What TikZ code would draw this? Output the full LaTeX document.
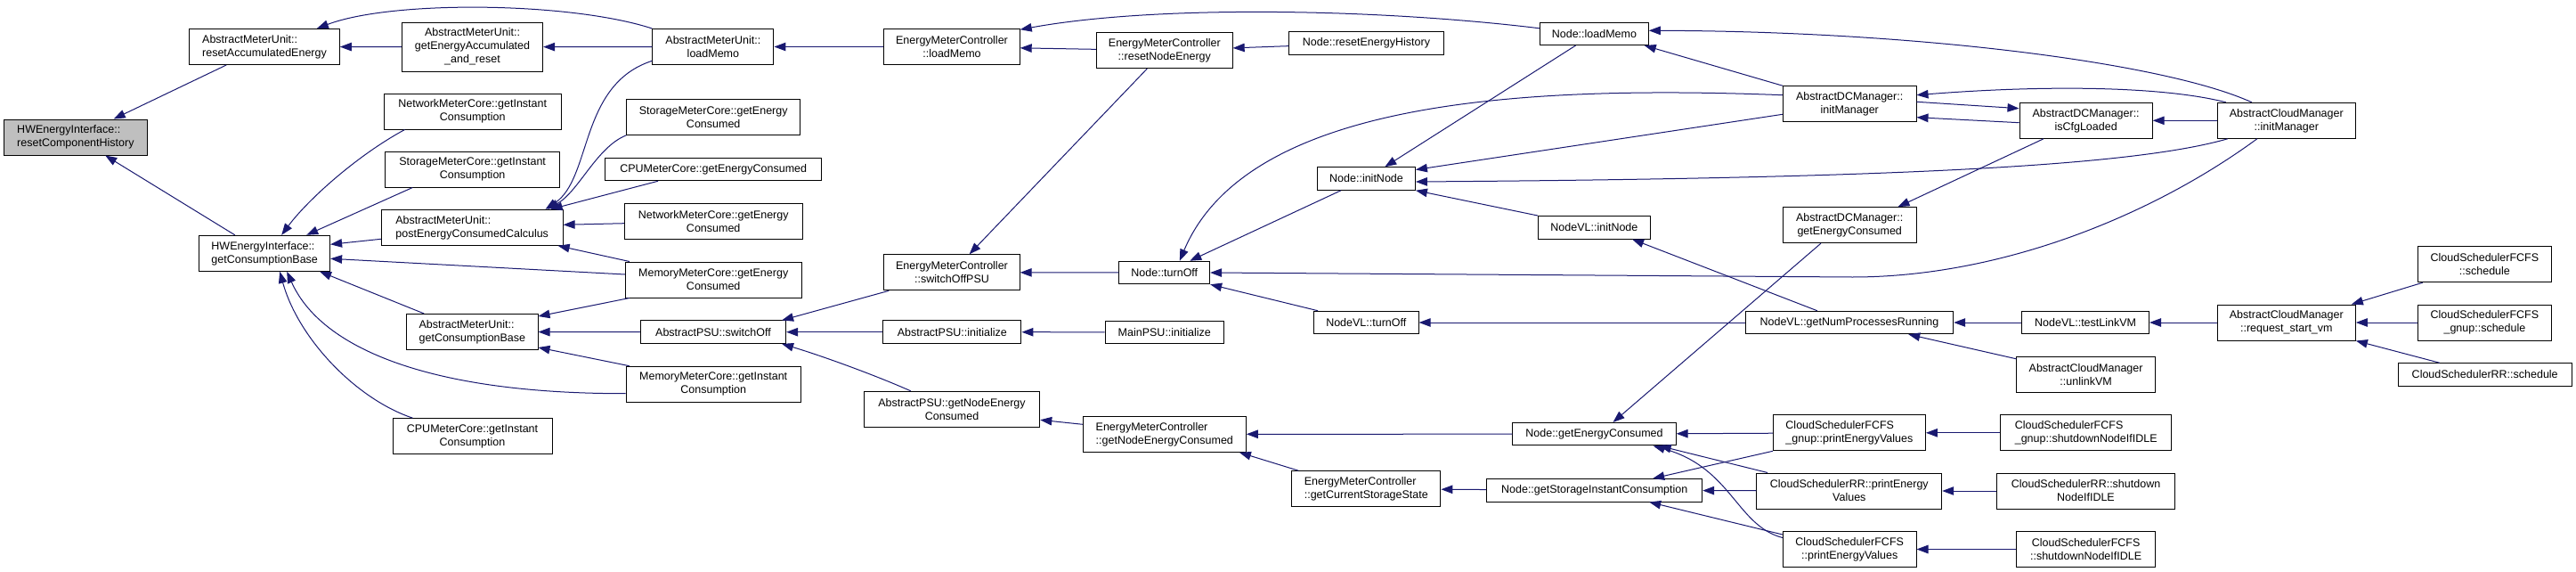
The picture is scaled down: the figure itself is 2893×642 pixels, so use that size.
\documentclass[tikz,border=0pt]{standalone}
\usepackage{fontspec}
\setmainfont{Liberation Sans}
\usetikzlibrary{arrows.meta}
\definecolor{edgeblue}{RGB}{25,25,112}
\tikzset{
    fn/.style={draw, rectangle, line width=1pt, fill=white, inner xsep=3pt, inner ysep=1pt, minimum height=40pt, align=center, font=\fontsize{12.5}{15}\selectfont},
    single/.style={minimum height=25.5pt},
    arrow/.style={draw=edgeblue, line width=1pt, -{Triangle[length=13pt, width=9.5pt]}}
}
\begin{document}
\begin{tikzpicture}[x=1pt, y=-1pt]
\useasboundingbox (0,0) rectangle (2893,642);
\node[fn, fill=black!25, align=left, minimum width=161pt] (rch) at (84.9,154) {HWEnergyInterface::\\resetComponentHistory};
\node[fn, align=left, minimum width=168.7pt] (rae) at (297,52.5) {AbstractMeterUnit::\\resetAccumulatedEnergy};
\node[fn, align=left, minimum width=146.8pt] (hwgcb) at (297.2,284.3) {HWEnergyInterface::\\getConsumptionBase};
\node[fn, minimum width=158.3pt, minimum height=54.7pt] (gear) at (530.5,52.7) {AbstractMeterUnit::\\getEnergyAccumulated\\\_and\_reset};
\node[fn, minimum width=199.3pt] (nmcgic) at (530.7,125) {NetworkMeterCore::getInstant\\Consumption};
\node[fn, minimum width=195.6pt] (smcgic) at (530.6,190) {StorageMeterCore::getInstant\\Consumption};
\node[fn, align=left, minimum width=203.8pt] (pecc) at (530.2,255.3) {AbstractMeterUnit::\\postEnergyConsumedCalculus};
\node[fn, align=left, minimum width=147.2pt] (amugcb) at (530.4,372.5) {AbstractMeterUnit::\\getConsumptionBase};
\node[fn, minimum width=179pt] (cpugic) at (530.5,489.7) {CPUMeterCore::getInstant\\Consumption};
\node[fn, minimum width=136.1pt] (amulm) at (800.9,52.5) {AbstractMeterUnit::\\loadMemo};
\node[fn, minimum width=194.6pt] (smcgec) at (801.2,131.3) {StorageMeterCore::getEnergy\\Consumed};
\node[fn, single, minimum width=243.4pt] (cpugec) at (801.2,190) {CPUMeterCore::getEnergyConsumed};
\node[fn, minimum width=199.7pt] (nmcgec) at (801.2,248.7) {NetworkMeterCore::getEnergy\\Consumed};
\node[fn, minimum width=197.6pt] (mmcgec) at (801.2,314) {MemoryMeterCore::getEnergy\\Consumed};
\node[fn, single, minimum width=163.2pt] (psuso) at (801,372.7) {AbstractPSU::switchOff};
\node[fn, minimum width=196pt] (mmcgic) at (801.2,431.2) {MemoryMeterCore::getInstant\\Consumption};
\node[fn, minimum width=152.4pt] (emclm) at (1069,52.5) {EnergyMeterController\\::loadMemo};
\node[fn, minimum width=152.4pt] (emcso) at (1069,305.8) {EnergyMeterController\\::switchOffPSU};
\node[fn, single, minimum width=155.3pt] (psuinit) at (1069.3,372.7) {AbstractPSU::initialize};
\node[fn, minimum width=197.5pt] (psugnec) at (1069,459.3) {AbstractPSU::getNodeEnergy\\Consumed};
\node[fn, minimum width=152.7pt] (emcrne) at (1307.8,56.7) {EnergyMeterController\\::resetNodeEnergy};
\node[fn, single, minimum width=101.7pt] (nto) at (1307.8,306) {Node::turnOff};
\node[fn, single, minimum width=133.5pt] (mainpsu) at (1307.8,372.8) {MainPSU::initialize};
\node[fn, align=left, minimum width=183.1pt] (emcgnec) at (1307.8,487.3) {EnergyMeterController\\::getNodeEnergyConsumed};
\node[fn, single, minimum width=173.4pt] (nreh) at (1534.5,48.5) {Node::resetEnergyHistory};
\node[fn, single, minimum width=109.8pt] (nin) at (1534.5,200.5) {Node::initNode};
\node[fn, single, minimum width=117.6pt] (nvto) at (1534.3,362) {NodeVL::turnOff};
\node[fn, align=left, minimum width=167.2pt] (emcgcss) at (1534.3,548.7) {EnergyMeterController\\::getCurrentStorageState};
\node[fn, single, minimum width=121.7pt] (nlm) at (1790.4,37.8) {Node::loadMemo};
\node[fn, single, minimum width=125.5pt] (nvin) at (1790.4,255.3) {NodeVL::initNode};
\node[fn, single, minimum width=183.3pt] (ngec) at (1790.5,487.2) {Node::getEnergyConsumed};
\node[fn, single, minimum width=242pt] (ngsic) at (1790.7,550.3) {Node::getStorageInstantConsumption};
\node[fn, minimum width=149.6pt] (dcim) at (2077.2,116.7) {AbstractDCManager::\\initManager};
\node[fn, minimum width=149.6pt] (dcgec) at (2077.2,252.7) {AbstractDCManager::\\getEnergyConsumed};
\node[fn, single, minimum width=233.4pt] (nvgnpr) at (2077,362) {NodeVL::getNumProcessesRunning};
\node[fn, align=left, minimum width=171.1pt] (fgpev) at (2076.9,485.8) {CloudSchedulerFCFS\\\_gnup::printEnergyValues};
\node[fn, minimum width=207.8pt] (rrpev) at (2076.8,551) {CloudSchedulerRR::printEnergy\\Values};
\node[fn, minimum width=149.6pt] (fpev) at (2077.2,616.5) {CloudSchedulerFCFS\\::printEnergyValues};
\node[fn, minimum width=149.2pt] (dccfg) at (2342.6,135.3) {AbstractDCManager::\\isCfgLoaded};
\node[fn, single, minimum width=142.8pt] (nvtl) at (2342.1,362) {NodeVL::testLinkVM};
\node[fn, minimum width=155.4pt] (acmul) at (2342.6,420.3) {AbstractCloudManager\\::unlinkVM};
\node[fn, align=left, minimum width=191.5pt] (fgsd) at (2342.7,485.8) {CloudSchedulerFCFS\\\_gnup::shutdownNodeIfIDLE};
\node[fn, minimum width=199.5pt] (rrsd) at (2342.5,551) {CloudSchedulerRR::shutdown\\NodeIfIDLE};
\node[fn, minimum width=155.4pt] (fsd) at (2342.6,616.5) {CloudSchedulerFCFS\\::shutdownNodeIfIDLE};
\node[fn, minimum width=155.1pt] (acmim) at (2567.8,135.3) {AbstractCloudManager\\::initManager};
\node[fn, minimum width=155.1pt] (acmrsv) at (2567.8,362) {AbstractCloudManager\\::request\_start\_vm};
\node[fn, minimum width=150.1pt] (fsch) at (2790.4,296.7) {CloudSchedulerFCFS\\::schedule};
\node[fn, minimum width=150.1pt] (fgsch) at (2790.4,362) {CloudSchedulerFCFS\\\_gnup::schedule};
\node[fn, single, minimum width=194.8pt] (rrsch) at (2790.7,420.5) {CloudSchedulerRR::schedule};
\draw[arrow] (rae) -- (rch);
\draw[arrow] (hwgcb) -- (rch);
\draw[arrow] (gear) -- (rae);
\draw[arrow] (amulm.north west) .. controls (640,2) and (440,0) .. ([xshift=-26pt]rae.north east);
\draw[arrow] (amulm) -- (gear);
\draw[arrow] ([xshift=24pt]nmcgic.south west) .. controls (400,175) and (345,225) .. ([xshift=19pt]hwgcb.north);
\draw[arrow] ([xshift=31pt]smcgic.south west) -- ([xshift=47pt]hwgcb.north);
\draw[arrow] ([yshift=-13pt]pecc.west) -- ([yshift=10pt]hwgcb.east);
\draw[arrow] ([yshift=6pt]mmcgec.west) -- ([yshift=-6pt]hwgcb.east);
\draw[arrow] ([xshift=20pt]amugcb.north west) -- ([xshift=-12pt]hwgcb.south east);
\draw[arrow] ([yshift=-10.5pt]mmcgic.west) .. controls (480,442) and (360,390) .. ([xshift=25pt]hwgcb.south);
\draw[arrow] ([xshift=23pt]cpugic.north west) .. controls (400,448) and (335,380) .. ([xshift=17pt]hwgcb.south);
\draw[arrow] ([yshift=-15.8pt]amulm.west) .. controls (650,95) and (665,200) .. ([xshift=-20pt]pecc.north east);
\draw[arrow] (smcgec.south west) .. controls (670,165) and (650,215) .. ([xshift=-18pt]pecc.north east);
\draw[arrow] ([xshift=60pt]cpugec.south west) -- ([xshift=-14pt]pecc.north east);
\draw[arrow] ([yshift=-2pt]nmcgec.west) -- ([yshift=3pt]pecc.east);
\draw[arrow] ([xshift=5pt]mmcgec.north west) -- ([xshift=-6pt]pecc.south east);
\draw[arrow] ([xshift=5pt]mmcgec.south west) -- ([yshift=-3pt]amugcb.north east);
\draw[arrow] (psuso) -- (amugcb);
\draw[arrow] ([xshift=4pt]mmcgic.north west) -- ([yshift=3pt]amugcb.south east);
\draw[arrow] (emclm) -- (amulm);
\draw[arrow] (emcrne) -- (emclm);
\draw[arrow] ([yshift=6pt]nlm.west) .. controls (1550,10) and (1300,5) .. ([yshift=-1.2pt]emclm.north east);
\draw[arrow] (nreh) -- (emcrne);
\draw[arrow] (emcrne) -- (emcso);
\draw[arrow] (nto) -- (emcso);
\draw[arrow] ([xshift=6pt]emcso.south west) -- ([xshift=-5pt]psuso.north east);
\draw[arrow] (psuinit) -- (psuso);
\draw[arrow] ([xshift=53pt]psugnec.north west) .. controls (985,422) and (925,400) .. ([xshift=-5pt]psuso.south east);
\draw[arrow] (mainpsu) -- (psuinit);
\draw[arrow] ([yshift=11pt]emcgnec.west) -- ([yshift=-12pt]psugnec.east);
\draw[arrow] (ngec) -- (emcgnec);
\draw[arrow] ([xshift=8pt]emcgcss.north west) -- ([xshift=-8pt]emcgnec.south east);
\draw[arrow] (ngsic) -- (emcgcss);
\draw[arrow] (nin) -- (nto);
\draw[arrow] ([yshift=10pt]dcim.west) .. controls (1700,95) and (1400,115) .. ([xshift=17pt]nto.north);
\draw[arrow] ([xshift=-33pt]acmim.south) .. controls (2420,240) and (2250,311) .. (2080,311) -- (nto.east);
\draw[arrow] ([xshift=5pt]nvto.north west) -- (nto.south east);
\draw[arrow] (nlm) -- (nin);
\draw[arrow] ([yshift=-11.6pt]dcim.west) -- ([yshift=10pt]nin.east);
\draw[arrow] ([xshift=12pt]acmim.south west) .. controls (2400,185) and (2150,200) .. ([yshift=-3.5pt]nin.east);
\draw[arrow] (nvin.north west) -- (nin.south east);
\draw[arrow] ([xshift=-39pt]acmim.north) .. controls (2430,70) and (2150,35) .. ([yshift=3.5pt]nlm.east);
\draw[arrow] (dcim.north west) -- ([xshift=-5pt]nlm.south east);
\draw[arrow] ([xshift=10pt]acmim.north west) .. controls (2430,97) and (2300,95) .. ([yshift=10pt]dcim.east);
\draw[arrow] ([yshift=2.4pt]dcim.east) -- ([yshift=13.6pt]dccfg.west);
\draw[arrow] ([yshift=-2.4pt]dccfg.west) -- ([yshift=-15pt]dcim.east);
\draw[arrow] (acmim) -- (dccfg);
\draw[arrow] ([xshift=27.5pt]dccfg.south west) -- ([xshift=-21pt]dcgec.north east);
\draw[arrow] ([xshift=43pt]dcgec.south west) -- ([xshift=21pt]ngec.north);
\draw[arrow] ([xshift=81pt]nvgnpr.north west) -- ([xshift=-20.6pt]nvin.south east);
\draw[arrow] (nvgnpr) -- (nvto);
\draw[arrow] (nvtl) -- (nvgnpr);
\draw[arrow] ([yshift=-3pt]acmul.north west) -- ([xshift=-51pt]nvgnpr.south east);
\draw[arrow] (acmrsv) -- (nvtl);
\draw[arrow] ([xshift=6pt]fsch.south west) -- ([xshift=-5pt]acmrsv.north east);
\draw[arrow] (fgsch) -- (acmrsv);
\draw[arrow] ([xshift=47pt]rrsch.north west) -- (acmrsv.south east);
\draw[arrow] (fgpev) -- (ngec);
\draw[arrow] ([xshift=12.6pt]rrpev.north west) -- ([xshift=-19pt]ngec.south east);
\draw[arrow] ([yshift=13pt]fpev.west) .. controls (1950,590) and (1945,525) .. ([xshift=-26pt]ngec.south east);
\draw[arrow] (fgpev.south west) -- ([xshift=-56pt]ngsic.north east);
\draw[arrow] (rrpev) -- (ngsic);
\draw[arrow] ([yshift=16.5pt]fpev.west) -- ([xshift=-60pt]ngsic.south east);
\draw[arrow] (fgsd) -- (fgpev);
\draw[arrow] (rrsd) -- (rrpev);
\draw[arrow] (fsd) -- (fpev);
\end{tikzpicture}
\end{document}
